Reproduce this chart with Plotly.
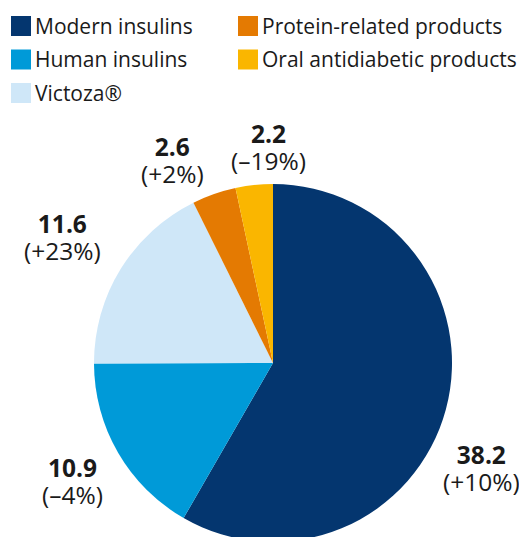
import plotly.graph_objects as go

# ---- data ----
categories = ["Modern insulins", "Human insulins", "Victoza®",
              "Protein-related products", "Oral antidiabetic products"]
values = [38.2, 10.9, 11.6, 2.6, 2.2]
growth = ["+10%", "–4%", "+23%", "+2%", "–19%"]

# ---- styles ----
colors = ["#04366f", "#009ad8", "#cfe7f8", "#e47a02", "#fab600"]
OFF = 8                      # page body margin
W, H = 527 - OFF, 540        # figure size
FONT = "Open Sans"
TXT = "#1a1a1a"

# pie geometry (page pixels)
cx, cy, r = 273, 363, 179

# label block centres (page pixels)
label_pos = [(481.5, 468), (72, 481), (62, 237), (172, 160), (268, 146.5)]

# legend layout (page pixels)
leg_cols_x = [11, 238]
leg_rows_y = [26, 59.5, 93]
sq = 20


def px(x):
    return (x - OFF) / W


def py(y):
    return 1 - (y - OFF) / H


fig = go.Figure(go.Pie(
    labels=categories,
    values=values,
    sort=False,
    direction="clockwise",
    rotation=0,
    marker=dict(colors=colors, line=dict(width=0)),
    textinfo="none",
    hoverinfo="skip",
    showlegend=False,
    domain=dict(x=[px(cx - r), px(cx + r)], y=[py(cy + r), py(cy - r)]),
))

annotations = []
shapes = []
for i, (cat, val, g) in enumerate(zip(categories, values, growth)):
    lx, ly = label_pos[i]
    big = "font-size:24.5px"
    annotations.append(dict(
        x=px(lx), y=py(ly), xref="paper", yref="paper",
        xanchor="center", yanchor="middle", showarrow=False,
        text=(f"<span style='{big}'><b>{val:.1f}</b></span><br>"
              f"<span style='{big}'>({g})</span>"),
        font=dict(family=FONT, size=21, color=TXT),
    ))
    col = 0 if i < 3 else 1
    row = i % 3
    x0 = leg_cols_x[col]
    yc = leg_rows_y[row]
    shapes.append(dict(
        type="rect", xref="paper", yref="paper",
        x0=px(x0), x1=px(x0 + sq), y0=py(yc + sq / 2), y1=py(yc - sq / 2),
        fillcolor=colors[i], line=dict(width=0),
    ))
    annotations.append(dict(
        x=px(x0 + sq + 5 - 3), y=py(yc), xref="paper", yref="paper",
        xanchor="left", yanchor="middle", showarrow=False,
        text=cat, font=dict(family=FONT, size=21, color=TXT),
    ))

fig.update_layout(
    width=W, height=H,
    margin=dict(l=0, r=0, t=0, b=0),
    paper_bgcolor="white", plot_bgcolor="white",
    annotations=annotations, shapes=shapes,
)

fig.write_html("out.html")
